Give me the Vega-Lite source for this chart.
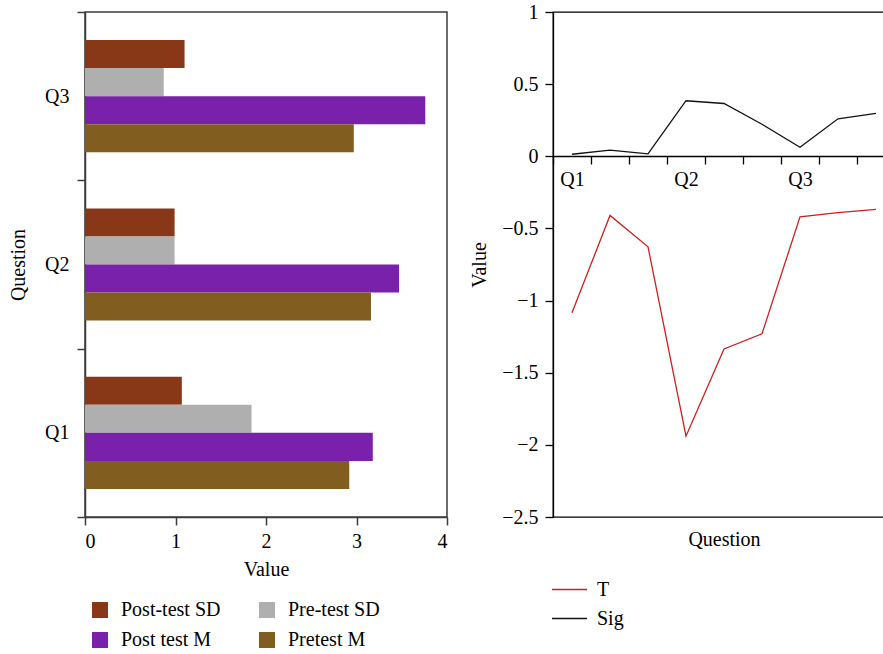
{
  "$schema": "https://vega.github.io/schema/vega-lite/v6.json",
  "padding": {"left": 7, "top": 1, "right": 0, "bottom": 0},
  "config": {
    "font": "Liberation Serif",
    "text": {"font": "Liberation Serif"},
    "axis": {"labelFont": "Liberation Serif", "titleFont": "Liberation Serif", "labelFontSize": 20, "titleFontSize": 20, "titleFontWeight": "normal", "labelColor": "#000", "titleColor": "#000", "tickSize": 8, "grid": false},
    "legend": {"labelFont": "Liberation Serif", "titleFont": "Liberation Serif", "labelFontSize": 20, "labelColor": "#000"},
    "concat": {"spacing": 20}
  },
  "resolve": {"scale": {"color": "independent"}, "legend": {"color": "independent"}},
  "datasets": {
    "bars": [
      {"question": "Q1", "measure": "Post-test SD", "value": 1.07},
      {"question": "Q1", "measure": "Pre-test SD", "value": 1.84},
      {"question": "Q1", "measure": "Post test M", "value": 3.18},
      {"question": "Q1", "measure": "Pretest M", "value": 2.92},
      {"question": "Q2", "measure": "Post-test SD", "value": 0.99},
      {"question": "Q2", "measure": "Pre-test SD", "value": 0.99},
      {"question": "Q2", "measure": "Post test M", "value": 3.47},
      {"question": "Q2", "measure": "Pretest M", "value": 3.16},
      {"question": "Q3", "measure": "Post-test SD", "value": 1.10},
      {"question": "Q3", "measure": "Pre-test SD", "value": 0.87},
      {"question": "Q3", "measure": "Post test M", "value": 3.76},
      {"question": "Q3", "measure": "Pretest M", "value": 2.97}
    ],
    "lines": [
      {"item": "Q1.1", "series": "T", "value": -1.085},
      {"item": "Q1.2", "series": "T", "value": -0.41},
      {"item": "Q1.3", "series": "T", "value": -0.627},
      {"item": "Q2.1", "series": "T", "value": -1.94},
      {"item": "Q2.2", "series": "T", "value": -1.335},
      {"item": "Q2.3", "series": "T", "value": -1.23},
      {"item": "Q3.1", "series": "T", "value": -0.42},
      {"item": "Q3.2", "series": "T", "value": -0.39},
      {"item": "Q3.3", "series": "T", "value": -0.368},
      {"item": "Q1.1", "series": "Sig", "value": 0.014},
      {"item": "Q1.2", "series": "Sig", "value": 0.042},
      {"item": "Q1.3", "series": "Sig", "value": 0.017},
      {"item": "Q2.1", "series": "Sig", "value": 0.385},
      {"item": "Q2.2", "series": "Sig", "value": 0.366},
      {"item": "Q2.3", "series": "Sig", "value": 0.222},
      {"item": "Q3.1", "series": "Sig", "value": 0.0625},
      {"item": "Q3.2", "series": "Sig", "value": 0.26},
      {"item": "Q3.3", "series": "Sig", "value": 0.297}
    ]
  },
  "hconcat": [
    {
      "width": 362,
      "height": 505,
      "data": {"name": "bars"},
      "view": {"stroke": "#3c3c3c", "strokeWidth": 1.5},
      "mark": {"type": "bar"},
      "encoding": {
        "y": {
          "field": "question", "type": "nominal", "sort": ["Q3", "Q2", "Q1"],
          "scale": {"paddingInner": 0, "paddingOuter": 0},
          "axis": {"title": "Question", "tickBand": "extent", "labelPadding": 8, "titlePadding": 16, "domainColor": "#3c3c3c", "tickColor": "#3c3c3c", "domainWidth": 1.5, "tickWidth": 1.5}
        },
        "yOffset": {
          "field": "measure", "type": "nominal",
          "sort": ["Post-test SD", "Pre-test SD", "Post test M", "Pretest M"],
          "scale": {"paddingInner": 0, "paddingOuter": 2}
        },
        "x": {
          "field": "value", "type": "quantitative",
          "scale": {"domain": [0, 4]},
          "axis": {"title": "Value", "values": [0, 1, 2, 3, 4], "labelPadding": 6, "titlePadding": 8, "domainColor": "#3c3c3c", "tickColor": "#3c3c3c", "domainWidth": 1.5, "tickWidth": 1.5}
        },
        "color": {
          "field": "measure", "type": "nominal",
          "scale": {"domain": ["Post-test SD", "Pre-test SD", "Post test M", "Pretest M"], "range": ["#883816", "#afafaf", "#7a21ab", "#815d1f"]},
          "legend": {"title": null, "orient": "none", "legendX": 5, "legendY": 588, "direction": "horizontal", "columns": 2, "symbolType": "square", "symbolSize": 256, "symbolStrokeWidth": 0, "symbolOpacity": 1, "labelOffset": 11, "rowPadding": 10, "columnPadding": 36}
        }
      }
    },
    {
      "width": 342,
      "height": 505,
      "data": {"name": "lines"},
      "view": {"stroke": "#000", "strokeWidth": 1.3},
      "mark": {"type": "line", "strokeWidth": 1.3},
      "encoding": {
        "x": {
          "field": "item", "type": "nominal",
          "sort": ["Q1.1", "Q1.2", "Q1.3", "Q2.1", "Q2.2", "Q2.3", "Q3.1", "Q3.2", "Q3.3"],
          "scale": {"type": "band", "paddingInner": 0, "paddingOuter": 0},
          "axis": {"title": "Question", "offset": -361, "tickBand": "extent", "labelAngle": 0, "labelExpr": "slice(datum.label, -2) == '.1' ? slice(datum.label, 0, 2) : ''", "labelPadding": 5, "titleY": 383, "titleBaseline": "middle", "domainColor": "#000", "tickColor": "#000", "domainWidth": 1.3, "tickWidth": 1.3}
        },
        "y": {
          "field": "value", "type": "quantitative",
          "scale": {"domain": [-2.5, 1]},
          "axis": {"title": "Value", "values": [-2.5, -2, -1.5, -1, -0.5, 0, 0.5, 1], "format": "~g", "labelPadding": 7, "titlePadding": 12, "domainColor": "#000", "tickColor": "#000", "domainWidth": 1.3, "tickWidth": 1.3}
        },
        "color": {
          "field": "series", "type": "nominal",
          "scale": {"domain": ["T", "Sig"], "range": ["#cc2020", "#111111"]},
          "legend": {"title": null, "orient": "none", "legendX": -2, "legendY": 559, "direction": "vertical", "symbolType": "stroke", "symbolSize": 1225, "symbolStrokeWidth": 1.5, "labelOffset": 9, "rowPadding": -10}
        }
      }
    }
  ]
}
